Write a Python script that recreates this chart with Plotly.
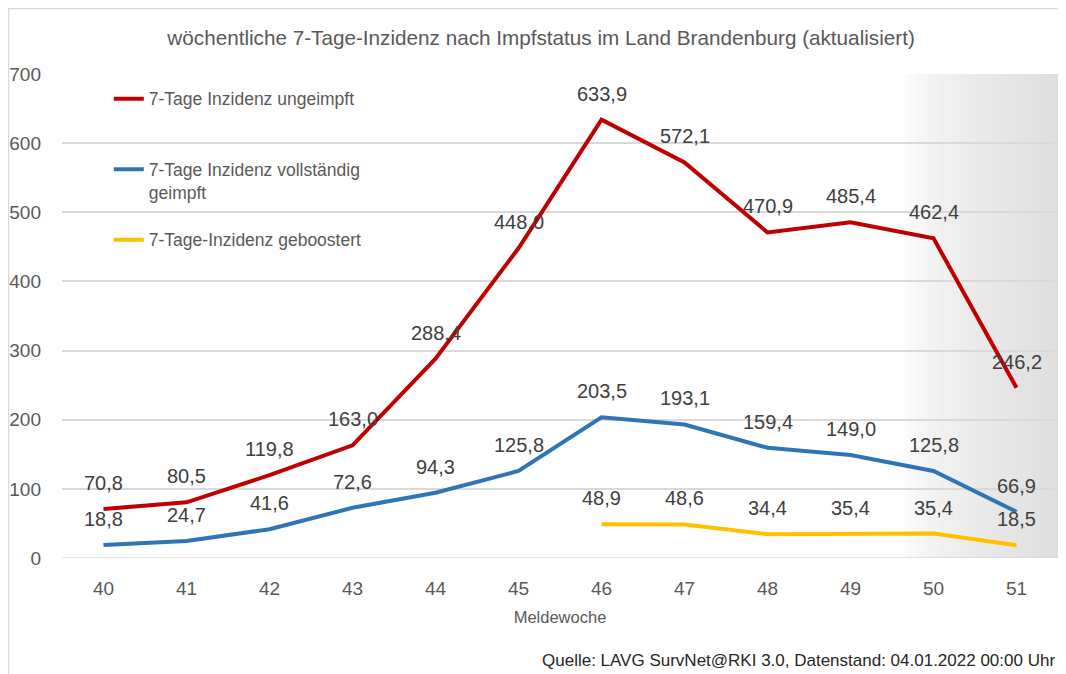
import plotly.graph_objects as go

# ---- data ----
weeks = [40, 41, 42, 43, 44, 45, 46, 47, 48, 49, 50, 51]
ungeimpft = [70.8, 80.5, 119.8, 163.0, 288.4, 448.0, 633.9, 572.1, 470.9, 485.4, 462.4, 246.2]
vollstaendig = [18.8, 24.7, 41.6, 72.6, 94.3, 125.8, 203.5, 193.1, 159.4, 149.0, 125.8, 66.9]
booster_weeks = [46, 47, 48, 49, 50, 51]
geboostert = [48.9, 48.6, 34.4, 35.4, 35.4, 18.5]

y_ticks = [0, 100, 200, 300, 400, 500, 600, 700]

series = [
    ("7-Tage Inzidenz ungeimpft<br>\u00a0", weeks, ungeimpft, "#C00000"),
    ("7-Tage Inzidenz vollständig<br>geimpft", weeks, vollstaendig, "#2E75B6"),
    ("7-Tage-Inzidenz geboostert", booster_weeks, geboostert, "#FFC000"),
]

FONT = "Liberation Sans, Arial, sans-serif"
fig = go.Figure()

for i, (name, xs, ys, col) in enumerate(series):
    fig.add_trace(go.Scatter(
        x=xs, y=ys, mode="lines", name=name,
        line=dict(color=col, width=4),
        legendgroup=f"g{i}", hoverinfo="skip",
    ))
    for xv, yv in zip(xs, ys):
        fig.add_annotation(
            x=xv, y=yv, text=f"{yv:.1f}".replace(".", ","),
            showarrow=False, yshift=26,
            font=dict(family=FONT, size=20, color="#404040"),
        )

# gradient shading on the right (decorative background)
shapes = []
x_start, x_end = 49.63, 51.5
n = 60
for k in range(n):
    t0 = k / n
    t1 = (k + 1) / n
    tm = (t0 + t1) / 2
    v = int(round(255 - 33 * (tm ** 0.6)))
    shapes.append(dict(
        type="rect", xref="x", yref="y",
        x0=x_start + (x_end - x_start) * t0, x1=x_start + (x_end - x_start) * t1 + 0.005,
        y0=0, y1=700, line=dict(width=0), fillcolor=f"rgb({v},{v},{v})", layer="below",
    ))
# outer frame
shapes.append(dict(type="rect", xref="paper", yref="paper",
                   x0=-0.0537, x1=1.3, y0=-0.6, y1=1.1353,
                   line=dict(color="#D9D9D9", width=1.5), fillcolor="rgba(0,0,0,0)", layer="below"))

fig.update_layout(
    width=1066, height=674,
    margin=dict(l=54, r=16, t=66, b=124, autoexpand=False),
    paper_bgcolor="white", plot_bgcolor="white",
    shapes=shapes,
    title=dict(text="wöchentliche 7-Tage-Inzidenz nach Impfstatus im Land Brandenburg (aktualisiert)",
               x=0.481, xref="paper", xanchor="center", y=1 - 30 / 674, yanchor="middle",
               font=dict(family=FONT, size=20.7, color="#595959")),
    font=dict(family=FONT, color="#595959"),
    showlegend=True,
    legend=dict(x=0.047, y=0.986, xanchor="left", yanchor="top", valign="top",
                bgcolor="rgba(0,0,0,0)", traceorder="grouped", tracegroupgap=22,
                font=dict(family=FONT, size=17.5, color="#595959")),
    xaxis=dict(range=[39.5, 51.5], tickvals=weeks, ticktext=[str(w) for w in weeks],
               showgrid=False, zeroline=False, showline=False, ticks="", ticklabelstandoff=17,
               automargin=False,
               tickfont=dict(family=FONT, size=19, color="#595959"),
               title=dict(text="Meldewoche", font=dict(family=FONT, size=16.5, color="#595959"), standoff=13)),
    yaxis=dict(range=[0, 700], tickvals=y_ticks, showgrid=True, gridcolor="#D9D9D9", gridwidth=1.5,
               zeroline=False, showline=False, ticks="", ticklabelstandoff=20, automargin=False,
               tickfont=dict(family=FONT, size=19, color="#595959")),
)
fig.add_hline(y=0, line=dict(color="#D9D9D9", width=1.5))

fig.add_annotation(
    text="Quelle: LAVG SurvNet@RKI 3.0, Datenstand: 04.01.2022 00:00 Uhr",
    xref="paper", yref="paper", x=0.999, y=-(652 - 550) / 484, xanchor="right", yanchor="middle",
    showarrow=False, font=dict(family=FONT, size=17, color="#262626"),
)

fig.write_html("out.html")
